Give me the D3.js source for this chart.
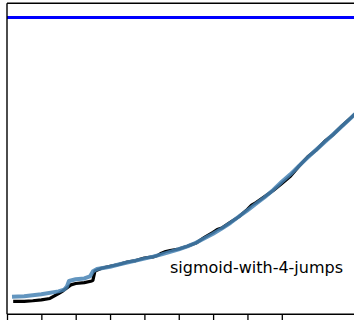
<!DOCTYPE html>
<html>
<head>
<meta charset="utf-8">
<script src="https://cdn.jsdelivr.net/npm/d3@7"></script>
<style>
  html, body { margin: 0; padding: 0; background: #fff; }
  svg { display: block; }
</style>
</head>
<body>
<div id="chart"></div>
<script>
// ---- data ----
const xTicks = [0, 1, 2, 3, 4, 5, 6, 7, 8];
const asymptote = 1.0;
const label = "sigmoid-with-4-jumps";

// observed (noisy) series
const obsX = [0.18, 0.25, 0.5, 0.75, 1.0, 1.25, 1.5, 1.63, 1.75, 1.86, 2.0, 2.25, 2.47, 2.5, 2.56,
  2.75, 3.0, 3.25, 3.5, 3.75, 4.0, 4.25, 4.4, 4.5, 4.62, 4.75, 5.0, 5.25, 5.5, 5.75, 6.0, 6.12, 6.25, 6.5, 6.75,
  7.0, 7.12, 7.25, 7.5, 7.75, 8.0, 8.25, 8.5, 8.75, 9.0, 9.25, 9.5, 9.75, 10.0, 10.25];
const obsY = [-0.004, -0.004, -0.004, -0.002, 0.001, 0.006, 0.023, 0.033, 0.044, 0.054, 0.059, 0.062, 0.068, 0.070, 0.103,
  0.113, 0.120, 0.126, 0.135, 0.140, 0.149, 0.153, 0.159, 0.166, 0.172, 0.175, 0.181, 0.191, 0.202, 0.222, 0.240, 0.250, 0.255, 0.275, 0.295,
  0.321, 0.336, 0.345, 0.366, 0.388, 0.413, 0.438, 0.474, 0.506, 0.531, 0.562, 0.586, 0.616, 0.644, 0.672];

// fitted series
const fitX = [0.146, 0.5, 1.0, 1.5, 1.66, 1.747, 1.805, 2.0, 2.25, 2.416, 2.504, 2.62,
  2.75, 3.0, 3.25, 3.5, 3.75, 4.0, 4.25, 4.5, 4.75, 5.0, 5.25, 5.5, 5.75, 6.0, 6.25, 6.5, 6.75,
  7.0, 7.25, 7.5, 7.75, 8.0, 8.25, 8.5, 8.75, 9.0, 9.25, 9.5, 9.75, 10.0, 10.25];
const fitY = [0.012, 0.014, 0.021, 0.031, 0.037, 0.049, 0.068, 0.074, 0.077, 0.084, 0.102, 0.110,
  0.113, 0.118, 0.126, 0.133, 0.140, 0.147, 0.154, 0.162, 0.171, 0.180, 0.190, 0.203, 0.219, 0.235, 0.253, 0.273, 0.296,
  0.318, 0.341, 0.364, 0.390, 0.419, 0.445, 0.475, 0.504, 0.532, 0.559, 0.587, 0.615, 0.643, 0.672];

// ---- layout ----
const W = 354, H = 320;
const padLeft = 7, padTop = 3.3, padBottom = 314.3;
const unit = 34.35;

const svg = d3.select("#chart").append("svg").attr("width", W).attr("height", H);

const x = d3.scaleLinear().domain([0, 10.5]).range([padLeft, padLeft + 10.5 * unit]);
const y = d3.scaleLinear().domain([-0.05, 1.05]).range([padBottom, padTop]);

svg.append("clipPath").attr("id", "clip")
  .append("rect").attr("x", padLeft).attr("y", padTop).attr("width", W).attr("height", padBottom - padTop);

const plot = svg.append("g").attr("clip-path", "url(#clip)");

const line = d3.line().x(d => x(d[0])).y(d => y(d[1]));

plot.append("path")
  .datum(d3.zip(obsX, obsY))
  .attr("d", line)
  .attr("fill", "none")
  .attr("stroke", "#000")
  .attr("stroke-width", 3.2)
  .attr("stroke-linejoin", "round");

plot.append("path")
  .datum(d3.zip(fitX, fitY))
  .attr("d", line)
  .attr("fill", "none")
  .attr("stroke", "steelblue")
  .attr("stroke-opacity", 0.85)
  .attr("stroke-width", 4)
  .attr("stroke-linejoin", "round");

plot.append("line")
  .attr("x1", x.range()[0]).attr("x2", x.range()[1])
  .attr("y1", y(asymptote)).attr("y2", y(asymptote))
  .attr("stroke", "#0000ff")
  .attr("stroke-width", 3);

// spines
svg.append("line").attr("x1", padLeft).attr("x2", padLeft).attr("y1", padTop).attr("y2", padBottom)
  .attr("stroke", "#000").attr("stroke-width", 1.4);
svg.append("line").attr("x1", padLeft).attr("x2", W).attr("y1", padTop).attr("y2", padTop)
  .attr("stroke", "#000").attr("stroke-width", 1.4);
svg.append("line").attr("x1", padLeft).attr("x2", W).attr("y1", padBottom).attr("y2", padBottom)
  .attr("stroke", "#000").attr("stroke-width", 1.4);

// bottom ticks
const ax = svg.append("g").attr("transform", `translate(0,${padBottom})`)
  .call(d3.axisBottom(x).tickValues(xTicks).tickSize(6).tickSizeOuter(0).tickFormat(""));
ax.select(".domain").remove();
ax.selectAll(".tick line").attr("stroke", "#000").attr("stroke-width", 1.3);

svg.append("text")
  .attr("x", 170).attr("y", 273)
  .attr("font-family", "DejaVu Sans, sans-serif")
  .attr("font-size", 16)
  .attr("fill", "#000")
  .text(label);
</script>
</body>
</html>
